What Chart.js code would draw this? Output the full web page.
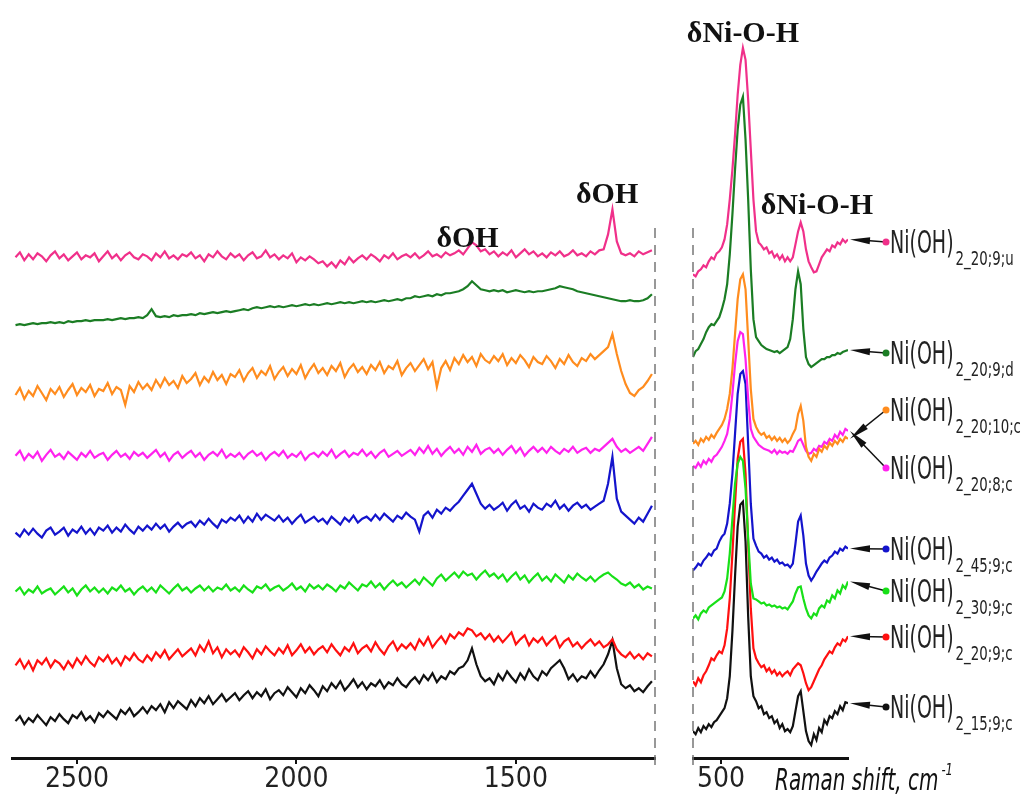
<!DOCTYPE html>
<html>
<head>
<meta charset="utf-8">
<script src="https://cdn.jsdelivr.net/npm/chart.js@4.4.0/dist/chart.umd.min.js"></script>
<style>
  html, body { margin: 0; padding: 0; background: #fff; }
  #wrap { position: relative; width: 1029px; height: 796px; overflow: hidden; }
  #left-chart { position: absolute; left: 0; top: 0; }
  #right-chart { position: absolute; left: 680px; top: 0; }
</style>
</head>
<body>
<div id="wrap">
  <canvas id="left-chart" width="680" height="796"></canvas>
  <canvas id="right-chart" width="349" height="796"></canvas>
</div>
<script>
// sample subscripts, top to bottom
const samples = ['2_20;9;u', '2_20;9;d', '2_20;10;c', '2_20;8;c', '2_45;9;c', '2_30;9;c', '2_20;9;c', '2_15;9;c'];
// vertical stacking offset of each spectrum
const offsets = [500, 430, 360, 300, 225, 165, 95, 32];

// Raman shift, cm-1 (high range, left panel)
const shiftHigh = [
  2640, 2630, 2620, 2610, 2600, 2590, 2580, 2570, 2560, 2550,
  2540, 2530, 2520, 2510, 2500, 2490, 2480, 2470, 2460, 2450,
  2440, 2430, 2420, 2410, 2400, 2390, 2380, 2370, 2360, 2350,
  2340, 2330, 2320, 2310, 2300, 2290, 2280, 2270, 2260, 2250,
  2240, 2230, 2220, 2210, 2200, 2190, 2180, 2170, 2160, 2150,
  2140, 2130, 2120, 2110, 2100, 2090, 2080, 2070, 2060, 2050,
  2040, 2030, 2020, 2010, 2000, 1990, 1980, 1970, 1960, 1950,
  1940, 1930, 1920, 1910, 1900, 1890, 1880, 1870, 1860, 1850,
  1840, 1830, 1820, 1810, 1800, 1790, 1780, 1770, 1760, 1750,
  1740, 1730, 1720, 1710, 1700, 1690, 1680, 1670, 1660, 1650,
  1640, 1630, 1620, 1610, 1600, 1590, 1580, 1570, 1560, 1550,
  1540, 1530, 1520, 1510, 1500, 1490, 1480, 1470, 1460, 1450,
  1440, 1430, 1420, 1410, 1400, 1390, 1380, 1370, 1360, 1350,
  1340, 1330, 1320, 1310, 1300, 1290, 1280, 1270, 1260, 1250,
  1240, 1230, 1220, 1210, 1200, 1190
];
// Raman shift, cm-1 (low range, right panel)
const shiftLow = [
  564, 558, 552, 546, 540, 534, 528, 522, 516, 510,
  504, 498, 492, 486, 480, 474, 468, 462, 456, 450,
  444, 438, 432, 426, 420, 414, 408, 402, 396, 390,
  384, 378, 372, 366, 360, 354, 348, 342, 336, 330,
  324, 318, 312, 306, 300, 294, 288, 282, 276, 270,
  264, 258, 252, 246, 240, 234, 228, 222, 216, 210
];

const tickHigh = [2500, 2000, 1500];
const tickLow = [500];

// intensities, high range
const high_20_9_u = [
  2,7,-1,5,0,6,3,-2,4,8, 1,5,-1,3,7,0,4,2,6,-2, 3,8,1,5,-1,4,7,2,0,5, 3,-1,6,2,8,1,4,0,5,3,
  7,1,4,-2,5,2,8,3,0,6, 2,5,-1,4,7,1,3,9,2,5, 0,4,1,6,-3,2,-1,3,0,-4, -2,-7,-3,-8,-1,-5,2,-3,1,4,
  0,5,2,-2,4,1,6,0,3,5, 2,6,1,4,8,3,5,2,7,4, 6,9,5,11,17,14,8,10,5,8, 3,7,4,9,2,6,10,5,8,3,
  6,2,7,4,8,3,5,9,4,6, 3,8,5,9,10,25,50,18,6,4, 6,3,8,5,7,9];
const high_20_9_d = [
  4,5,4,5,6,5,6,6,7,6, 7,6,8,7,8,8,9,8,9,9, 9,10,9,10,11,10,11,11,12,11, 14,20,13,12,13,12,14,13,14,14,
  15,14,16,15,16,17,16,17,18,17, 18,19,20,19,21,22,21,22,23,22, 23,22,23,24,23,24,25,24,25,24, 25,26,25,26,27,26,27,26,27,28,
  27,28,27,28,29,28,29,30,29,31, 31,33,32,33,34,33,35,34,36,36, 37,38,40,43,48,44,40,39,38,39, 38,39,37,38,39,38,37,38,37,38,
  38,39,40,41,43,42,41,40,38,37, 36,35,34,33,32,31,30,29,28,28, 29,28,28,29,31,35];
const high_20_10_c = [
  4,11,0,8,3,13,6,-1,10,5, 12,2,9,15,4,11,7,14,3,10, 8,16,5,12,9,-6,13,7,17,10, 15,9,19,12,21,14,18,11,23,16,
  20,26,14,22,17,27,19,24,15,25, 22,29,18,26,31,21,28,24,33,20, 27,32,23,30,25,34,21,29,35,26, 31,24,33,28,36,22,30,35,27,32,
  25,34,29,37,26,33,30,38,24,31, 36,28,34,40,30,37,12,31,38,29, 41,35,44,37,42,33,45,39,36,43, 38,45,34,41,36,44,39,32,42,37,
  35,43,38,31,40,35,44,37,33,41, 38,45,40,44,48,52,65,45,28,15, 6,3,9,12,18,25];
const high_20_8_c = [
  3,8,-1,5,1,7,-2,4,9,2, 5,0,7,3,-1,6,2,8,1,4, 6,-1,4,8,2,5,0,7,3,6, 1,5,9,2,6,-2,4,7,1,5,
  8,2,6,-1,4,7,3,9,1,5, 2,6,0,5,8,3,6,-1,4,7, 3,8,1,5,2,7,-1,4,6,2, 7,3,9,1,5,8,2,6,4,9,
  3,7,1,6,9,2,5,8,3,6, 9,4,11,6,13,5,10,3,8,12, 6,10,4,12,7,14,5,9,11,6, 10,4,9,13,6,11,3,8,12,7,
  11,6,12,8,5,10,7,12,6,9, 11,6,10,8,12,16,20,12,7,10, 6,9,12,8,15,22];
const high_45_9_c = [
  1,-3,4,-1,5,0,-4,3,6,-1, 2,6,-2,4,1,7,0,5,-1,6, 3,8,1,6,2,9,4,0,7,3, 8,4,10,5,9,2,7,11,6,10,
  12,7,13,9,15,10,6,14,11,16, 13,18,11,17,12,20,14,19,16,13, 18,12,16,10,15,19,11,14,17,12, 15,10,17,13,9,16,12,18,11,15,
  17,13,19,14,20,16,12,18,15,21, 17,14,2,18,22,16,24,20,26,23, 28,32,38,44,50,40,30,25,29,24, 27,31,23,29,33,25,28,22,30,26,
  24,30,27,33,25,29,23,28,31,26, 29,24,27,30,33,50,77,35,22,18, 14,10,16,12,20,28];
const high_30_9_c = [
  2,6,-1,4,1,7,0,3,5,-1, 3,7,1,5,-2,4,8,2,6,1, 5,0,6,3,8,2,5,-1,4,7, 2,6,1,8,4,0,5,9,3,6,
  1,5,8,3,7,2,6,4,9,3, 6,2,8,4,1,7,5,9,3,6, 8,3,6,10,4,7,2,9,5,8, 4,9,6,2,8,5,11,7,3,9,
  7,12,6,10,4,9,13,8,11,6, 10,14,9,16,12,8,15,19,13,17, 21,16,22,18,20,14,19,23,17,20, 15,19,12,17,21,14,18,11,16,20,
  13,17,12,19,15,11,18,14,20,16, 13,17,12,16,19,21,17,14,10,8, 11,6,9,4,7,5];
const high_20_9_c = [
  -2,4,-5,2,-7,3,-1,5,-4,3, 0,-6,2,-4,5,-1,7,1,-3,6, 2,8,0,5,-2,7,3,10,4,1, 8,3,11,6,13,4,9,14,7,11,
  15,8,18,12,22,10,16,6,14,9, 13,7,16,11,5,14,9,17,12,8, 15,10,18,8,13,19,11,16,9,14, 17,11,19,13,8,16,12,20,10,15,
  18,12,21,14,9,17,22,13,19,15, 20,14,24,18,26,16,22,27,20,29, 25,31,28,35,33,27,30,24,29,22, 27,21,26,31,19,24,28,18,25,21,
  26,18,23,27,16,22,25,17,21,15, 20,24,18,22,16,19,24,14,9,6, 11,5,9,4,10,7];
const high_15_9_c = [
  5,10,2,8,4,11,6,1,9,5, 12,7,3,11,8,14,6,10,4,13, 9,15,11,7,16,12,18,10,14,19, 13,20,16,22,14,24,18,25,21,17,
  26,20,28,23,30,22,27,32,25,29, 33,26,31,35,28,34,30,37,27,33, 36,31,39,34,29,38,33,41,36,30, 40,35,43,38,45,36,41,47,39,44,
  37,43,40,46,38,44,41,48,42,39, 45,49,43,51,46,53,44,50,47,55, 52,58,60,66,78,62,50,45,48,42, 52,46,55,49,44,53,47,57,50,46,
  55,51,58,62,66,58,47,52,45,50, 48,55,49,56,62,72,86,58,42,38, 41,35,38,34,40,45];

// intensities, low range
const low_20_9_u = [-15,-17,-12,-10,-6,-8,-2,2,0,6, 8,12,20,35,60,90,125,165,195,212, 200,160,110,60,28,17,14,10,12,6,
  8,2,5,0,4,-2,2,-2,2,15, 28,37,28,10,-2,-8,-13,-12,-5,2, 6,10,8,14,12,17,15,20,17,20];
const low_20_9_d = [-28,-22,-20,-15,-10,-3,2,5,4,8, 12,20,30,45,75,115,160,200,225,233, 190,130,60,10,-8,-12,-16,-18,-20,-21,
  -22,-23,-22,-24,-22,-20,-18,-10,10,40, 58,45,0,-28,-35,-38,-36,-34,-32,-30, -30,-28,-28,-26,-26,-24,-25,-23,-22,-21];
const low_20_10_c = [-45,-42,-46,-40,-43,-38,-41,-36,-39,-34, -30,-26,-20,-10,5,30,65,100,120,125, 110,60,10,-20,-28,-33,-36,-34,-39,-37,
  -41,-38,-42,-39,-43,-40,-44,-41,-35,-30, -15,-7,-22,-48,-58,-62,-55,-58,-50,-53, -47,-50,-44,-47,-42,-45,-40,-43,-38,-40];
const low_20_8_c = [-7,-9,-4,-8,-2,-5,0,-3,2,4, 8,12,18,25,40,65,95,118,127,125, 100,60,30,22,18,14,12,10,9,8,
  6,9,5,8,6,7,5,8,7,12, 18,20,14,8,5,6,10,8,13,12, 17,15,20,18,24,21,27,24,30,28];
const low_45_9_c = [-37,-34,-30,-32,-27,-24,-20,-22,-17,-15, -8,-3,0,10,30,60,100,140,160,163, 150,90,30,-5,-12,-18,-20,-24,-22,-26,
  -24,-28,-26,-30,-29,-32,-31,-34,-30,-10, 12,18,-2,-30,-42,-47,-43,-38,-34,-30, -27,-29,-24,-22,-18,-20,-15,-17,-13,-15];
const low_30_9_c = [-25,-22,-26,-20,-17,-19,-14,-12,-10,-8, -6,-4,2,15,40,75,110,130,137,133, 105,55,10,-5,-6,-8,-10,-9,-12,-11,
  -13,-12,-14,-13,-15,-14,-16,-12,-8,0, 6,7,-5,-15,-22,-25,-20,-22,-15,-12, -14,-7,-9,-2,-5,3,0,8,5,12];
const low_20_9_c = [-18,-22,-15,-19,-12,-8,-2,5,3,8, 12,10,18,35,65,110,160,205,222,225, 190,120,55,15,5,0,-4,-2,-8,-5,
  -10,-7,-12,-9,-13,-10,-8,-12,-6,-3, 0,-2,-10,-20,-27,-24,-18,-12,-6,-2, 4,8,12,10,16,20,18,24,22,27];
const low_15_9_c = [-5,-8,-2,-6,0,-3,2,-1,4,6, 10,14,18,28,50,95,150,200,222,225, 185,110,50,30,25,18,20,12,14,8,
  10,3,6,-2,2,-5,-3,-6,0,15, 30,35,15,-5,-15,-19,-8,-14,-2,-6, 6,2,10,8,15,12,20,16,24,23];

const highSeries = [high_20_9_u, high_20_9_d, high_20_10_c, high_20_8_c, high_45_9_c, high_30_9_c, high_20_9_c, high_15_9_c];
const lowSeries = [low_20_9_u, low_20_9_d, low_20_10_c, low_20_8_c, low_45_9_c, low_30_9_c, low_20_9_c, low_15_9_c];

// styling / layout
const colors = ['#f0308a', '#1b7d24', '#ff8c1e', '#ff22ee', '#1414cc', '#18e018', '#ff1010', '#111111'];
const labelY = [242, 353, 410, 468, 549, 591, 637, 707];
const narrow = "'DejaVu Sans Condensed', 'Liberation Sans Narrow', sans-serif";

function buildDatasets(xs, series) {
  return series.map((vals, i) => ({
    label: samples[i],
    data: xs.map((x, j) => ({ x: x, y: vals[j] + offsets[i] })),
    borderColor: colors[i],
    borderWidth: 2.2,
    pointRadius: 0,
    tension: 0,
    fill: false
  }));
}

// text squeezed horizontally, to mimic the narrow drafting font
function squeezed(ctx, text, x, y, sx) {
  ctx.save();
  ctx.translate(x, y);
  ctx.scale(sx, 1);
  ctx.fillText(text, 0, 0);
  const w = ctx.measureText(text).width * sx;
  ctx.restore();
  return w;
}

const dashedEdge = {
  id: 'dashedEdge',
  afterDraw(chart, args, opts) {
    const ctx = chart.ctx;
    const x = opts.side === 'right' ? chart.chartArea.right : chart.chartArea.left;
    ctx.save();
    ctx.strokeStyle = '#777';
    ctx.lineWidth = 1.5;
    ctx.setLineDash([10, 7]);
    ctx.beginPath();
    ctx.moveTo(x, 228);
    ctx.lineTo(x, 772);
    ctx.stroke();
    ctx.restore();
  }
};

const peakNotes = {
  id: 'peakNotes',
  afterDraw(chart, args, opts) {
    const ctx = chart.ctx;
    ctx.save();
    ctx.font = "bold 30px 'Liberation Serif', 'Times New Roman', serif";
    ctx.fillStyle = '#111';
    ctx.textAlign = 'center';
    ctx.textBaseline = 'alphabetic';
    (opts.notes || []).forEach(n => {
      ctx.fillText(n.text, chart.scales.x.getPixelForValue(n.x), chart.scales.y.getPixelForValue(n.y));
    });
    ctx.restore();
  }
};

const sampleLabels = {
  id: 'sampleLabels',
  afterDraw(chart) {
    const ctx = chart.ctx;
    const area = chart.chartArea;
    const ys = chart.scales.y;
    ctx.save();
    chart.data.datasets.forEach((ds, i) => {
      const last = ds.data[ds.data.length - 1];
      const tipX = area.right + 2;
      const tipY = ys.getPixelForValue(last.y);
      const dotX = area.right + 38;
      const dotY = labelY[i];
      const ang = Math.atan2(dotY - tipY, dotX - tipX);
      const ux = Math.cos(ang), uy = Math.sin(ang);
      ctx.strokeStyle = '#111';
      ctx.lineWidth = 1.5;
      ctx.beginPath();
      ctx.moveTo(tipX + 10 * ux, tipY + 10 * uy);
      ctx.lineTo(dotX, dotY);
      ctx.stroke();
      ctx.fillStyle = '#111';
      ctx.beginPath();
      ctx.moveTo(tipX, tipY);
      ctx.lineTo(tipX + 20 * ux - 3.5 * uy, tipY + 20 * uy + 3.5 * ux);
      ctx.lineTo(tipX + 20 * ux + 3.5 * uy, tipY + 20 * uy - 3.5 * ux);
      ctx.closePath();
      ctx.fill();
      ctx.fillStyle = colors[i];
      ctx.beginPath();
      ctx.arc(dotX, dotY, 3.5, 0, Math.PI * 2);
      ctx.fill();

      ctx.fillStyle = '#222';
      ctx.textAlign = 'left';
      ctx.textBaseline = 'alphabetic';
      ctx.font = '32px ' + narrow;
      const tx = dotX + 4;
      const w = squeezed(ctx, 'Ni(OH)', tx, dotY + 11, 0.66);
      ctx.font = '19px ' + narrow;
      squeezed(ctx, samples[i], tx + w + 2, dotY + 23, 0.78);
    });

    // axis title
    ctx.fillStyle = '#111';
    ctx.textAlign = 'left';
    ctx.font = 'italic 30px ' + narrow;
    const tw = squeezed(ctx, 'Raman shift, cm', 95, 790, 0.74);
    ctx.font = 'italic 16px ' + narrow;
    squeezed(ctx, '-1', 95 + tw + 3, 775, 0.8);
    ctx.restore();
  }
};

function panelConfig(xs, series, xmin, xmax, ticks, pad, extra) {
  return {
    type: 'line',
    data: { datasets: buildDatasets(xs, series) },
    options: {
      responsive: false,
      animation: false,
      layout: { padding: pad },
      plugins: {
        legend: { display: false },
        tooltip: { enabled: false },
        dashedEdge: { side: extra.side },
        peakNotes: { notes: extra.notes }
      },
      scales: {
        x: {
          type: 'linear',
          reverse: true,
          min: xmin,
          max: xmax,
          afterBuildTicks: axis => { axis.ticks = ticks.map(v => ({ value: v })); },
          grid: { drawOnChartArea: false, drawTicks: true, tickLength: 6, color: '#111', lineWidth: 2 },
          border: { display: true, color: '#111', width: 3 },
          ticks: {
            color: '#222',
            padding: 1,
            maxRotation: 0,
            autoSkip: false,
            callback: v => String(v),
            font: { family: narrow, size: 28, lineHeight: 1.07 }
          }
        },
        y: { display: false, min: 0, max: 760 }
      }
    },
    plugins: extra.plugins
  };
}

new Chart(document.getElementById('left-chart'),
  panelConfig(shiftHigh, highSeries, 1183, 2648, tickHigh,
    { left: 12, right: 25, top: 0, bottom: 0 },
    {
      side: 'right',
      notes: [{ text: 'δOH', x: 1610, y: 512 }, { text: 'δOH', x: 1292, y: 556 }],
      plugins: [dashedEdge, peakNotes]
    }));

new Chart(document.getElementById('right-chart'),
  panelConfig(shiftLow, lowSeries, 210, 564, tickLow,
    { left: 13, right: 181, top: 0, bottom: 0 },
    {
      side: 'left',
      notes: [{ text: 'δNi-O-H', x: 450, y: 718 }, { text: 'δNi-O-H', x: 281, y: 545 }],
      plugins: [dashedEdge, peakNotes, sampleLabels]
    }));
</script>
</body>
</html>
